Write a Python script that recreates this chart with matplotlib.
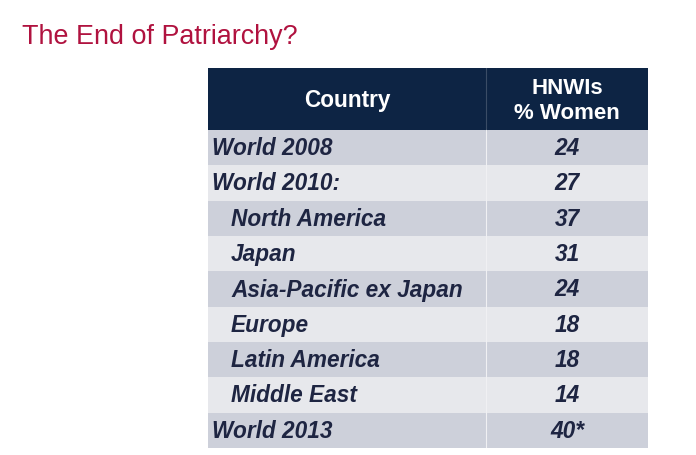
import matplotlib.pyplot as plt
from matplotlib.patches import Rectangle

# Table contents
countries = ['World 2008', 'World 2010:', 'North America', 'Japan',
             'Asia-Pacific ex Japan', 'Europe', 'Latin America',
             'Middle East', 'World 2013']
indented = [False, False, True, True, True, True, True, True, False]
women_pct = ['24', '27', '37', '31', '24', '18', '18', '14', '40*']
headers = ['Country', 'HNWIs\n% Women']

plt.rcParams['font.family'] = ['Liberation Sans', 'DejaVu Sans']

fig = plt.figure(figsize=(6.96, 4.56), dpi=100)
fig.patch.set_facecolor('white')

# title
fig.text(22 / 696, 1 - 44 / 456, 'The End of Patriarchy?', fontsize=19.4,
         color='#b0123f', ha='left', va='baseline')

# table axes in row units; header is taller than data rows
left, right, top, bottom = 208, 648, 69, 449
ax = fig.add_axes([left / 696, 1 - bottom / 456, (right - left) / 696, (bottom - top) / 456])
n = len(countries)
row_px = (bottom - 131) / n
head_h = (131 - top) / row_px
ax.set_xlim(0, 1)
ax.set_ylim(n + head_h, 0)
ax.axis('off')

split = (486 - left) / (right - left)
header_col = '#0d2444'
dark_row = '#cdd0da'
light_row = '#e7e8ec'
text_col = '#1e2542'

ax.add_patch(Rectangle((0, 0), 1, head_h, color=header_col, lw=0))
ax.plot([split, split], [0, head_h], color='#3a4c66', lw=0.8)
ax.text(split / 2, head_h / 2, headers[0], color='white', fontsize=16.3,
        fontweight='bold', ha='center', va='center')
ax.text((split + 1) / 2, head_h / 2 + 0.03, headers[1], color='white', fontsize=16,
        fontweight='bold', ha='center', va='center', linespacing=1.3)

for i, (name, val) in enumerate(zip(countries, women_pct)):
    y0 = head_h + i
    ax.add_patch(Rectangle((0, y0), 1, 1, color=dark_row if i % 2 == 0 else light_row, lw=0))
    ax.plot([split, split], [y0, y0 + 1], color='#f0f0f3', lw=0.8)
    x_txt = (231 - left) / (right - left) if indented[i] else (212 - left) / (right - left)
    ax.text(x_txt, y0 + 0.5, name, color=text_col, fontsize=16.3,
            fontweight='bold', style='italic', ha='left', va='center')
    ax.text((split + 1) / 2, y0 + 0.5, val, color=text_col, fontsize=16.3,
            fontweight='bold', style='italic', ha='center', va='center')

fig.savefig('out.png', dpi=100, facecolor='white')
